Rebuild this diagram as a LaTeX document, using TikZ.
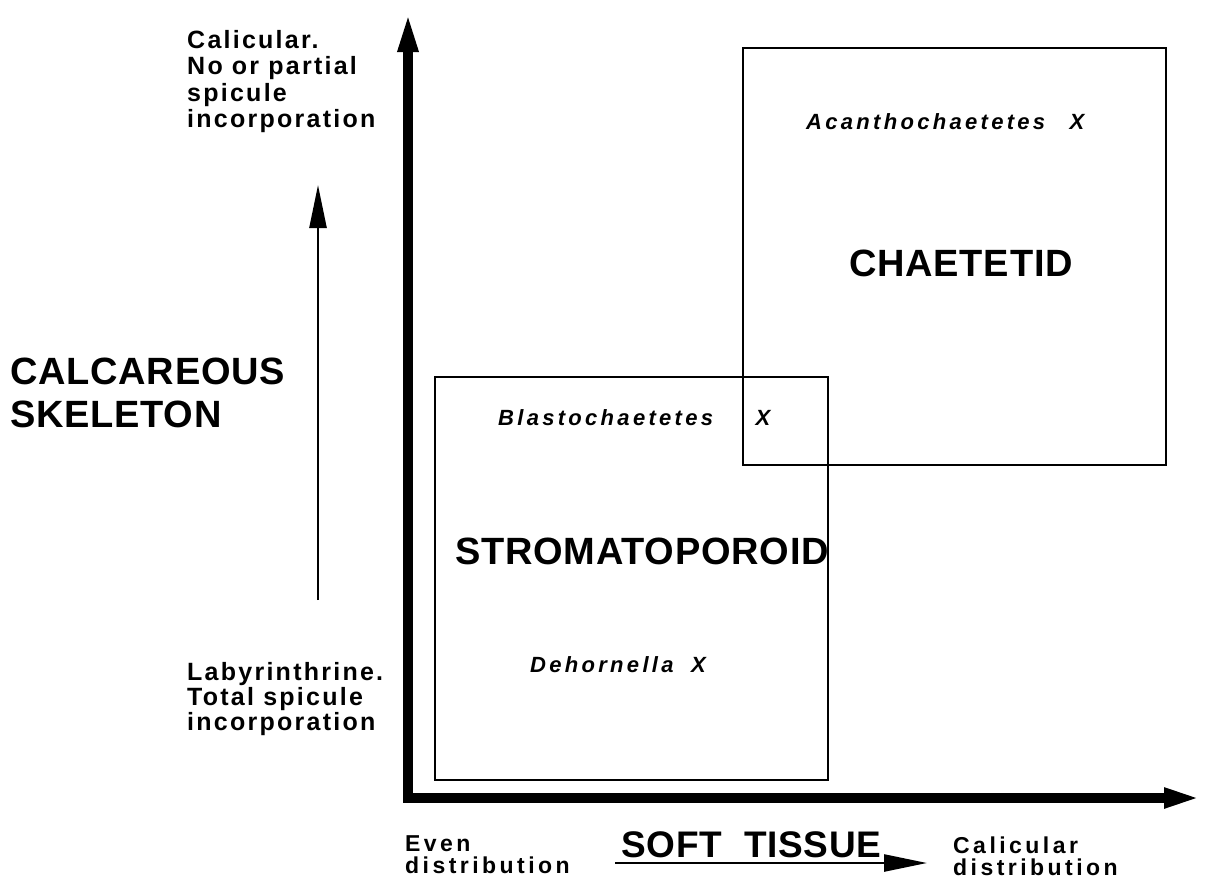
\documentclass[tikz,border=0pt]{standalone}
\usepackage{fontspec}
\setmainfont{Liberation Sans}
\newfontfamily\titlefont[LetterSpace=2]{Liberation Sans}
\newfontfamily\sidefont[LetterSpace=9]{Liberation Sans}
\newfontfamily\axisfont[LetterSpace=15]{Liberation Sans}
\newfontfamily\taxonfont[LetterSpace=15]{Liberation Sans}
\usetikzlibrary{arrows.meta,positioning}

\begin{document}
\begin{tikzpicture}[
    x=1pt, y=-1pt,
    axis/.style={line width=10pt, line join=miter,
                 {Triangle[length=42pt,width=18pt]}-{Triangle[length=38pt,width=18pt]}},
    pointer/.style={line width=2.5pt, -{Triangle[length=43pt,width=17pt]}},
    group/.style={draw, line width=2pt, inner sep=0pt},
    groupname/.style={inner sep=0pt, font=\titlefont\bfseries\fontsize{38}{40}\selectfont},
    sidetext/.style={anchor=north west, inner sep=0pt, align=left,
                     font=\sidefont\bfseries\fontsize{25}{26.5}\selectfont},
    axistext/.style={anchor=north west, inner sep=0pt, align=left,
                     font=\axisfont\bfseries\fontsize{23}{22}\selectfont},
    taxon/.style={inner sep=0pt, font=\taxonfont\bfseries\itshape\fontsize{22}{22}\selectfont},
    xmark/.style={inner sep=0pt, font=\bfseries\itshape\fontsize{22}{22}\selectfont}
]
    \useasboundingbox (0,0) rectangle (1205,894);

    % axes
    \coordinate (origin) at (408,798);
    \coordinate (ytip) at (408,10);
    \coordinate (xtip) at (1202,798);
    \draw[axis] (ytip) -- (origin) -- (xtip);

    % fields
    \node[group, minimum width=393pt, minimum height=403pt] (strom) at (631.5,578.5) {};
    \node[group, minimum width=423pt, minimum height=417pt] (chaet) at (954.5,256.5) {};

    \node[groupname] (stromname) at (642,551) {STROMATOPOROID};
    \node[groupname] (chaetname) at (961,263) {CHAETETID};

    % genera
    \node[taxon, anchor=base west] (acan) at (806,129) {Acanthochaetetes};
    \node[xmark, base right=24pt of acan] (acanX) {X};
    \node[taxon, anchor=base west] (blast) at (498,425) {Blastochaetetes};
    \node[xmark, base right=42pt of blast] (blastX) {X};
    \node[taxon, anchor=base west] (dehorn) at (530,672) {Dehornella};
    \node[xmark, base right=17pt of dehorn] (dehornX) {X};

    % vertical scale
    \node[groupname, anchor=north west, align=left,
          font=\titlefont\bfseries\fontsize{38}{43}\selectfont] (calc) at (10,358)
          {CALCAREOUS\\SKELETON};
    \node[sidetext] (upper) at (187,30) {Calicular.\\No or partial\\spicule\\incorporation};
    \node[sidetext, font=\sidefont\bfseries\fontsize{25}{25}\selectfont] (lower) at (187,662)
          {Labyrinthrine.\\Total spicule\\incorporation};
    \coordinate (vlo) at (318,600);
    \coordinate (vhi) at (318,185);
    \draw[pointer] (vlo) -- (vhi);

    % horizontal scale
    \node[groupname, anchor=base west, font=\titlefont\bfseries\fontsize{37}{40}\selectfont]
          (soft) at (621,857) {SOFT\hspace{0.3em} TISSUE};
    \node[axistext] (even) at (405,835) {Even\\distribution};
    \node[axistext] (calic) at (953,837) {Calicular\\distribution};
    \coordinate (hlo) at (615,863);
    \coordinate (hhi) at (927,863);
    \draw[pointer] (hlo) -- (hhi);
\end{tikzpicture}
\end{document}
